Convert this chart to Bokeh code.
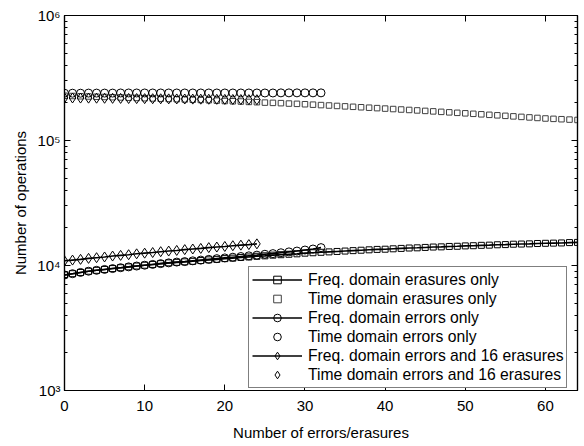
from bokeh.plotting import figure
from bokeh.models import Range1d, LogAxis, LinearAxis, FixedTicker
from bokeh.embed import file_html
from bokeh.resources import INLINE

# ---------------- data ----------------
x_erasures = list(range(65))
x_errors = list(range(33))
x_err16 = list(range(25))

freq_erasures = [8400, 8600, 8800, 9000, 9150, 9300, 9450, 9600, 9750, 9900,
                 10050, 10200, 10350, 10500, 10600, 10700, 10800, 10950, 11100, 11200,
                 11350, 11450, 11600, 11700, 11850, 11950, 12100, 12200, 12300, 12400,
                 12550, 12650, 12750, 12850, 12950, 13050, 13150, 13250, 13350, 13450,
                 13500, 13600, 13700, 13800, 13850, 13950, 14050, 14100, 14200, 14250,
                 14350, 14400, 14500, 14550, 14650, 14700, 14800, 14850, 14900, 15000,
                 15050, 15100, 15150, 15250, 15300]
time_erasures = [228000, 227000, 226000, 225000, 224000, 223000, 222000, 221000, 220000, 219000,
                 218000, 217000, 216000, 215000, 214000, 213000, 212000, 211000, 210000, 208500,
                 207000, 206000, 205000, 203500, 202500, 201000, 200000, 199000, 197500, 196500,
                 195000, 193500, 192000, 190500, 189000, 187500, 186000, 184500, 183000, 181500,
                 180000, 178500, 177000, 175500, 174000, 172500, 171000, 169500, 168000, 166500,
                 165000, 163500, 162000, 160500, 159000, 157500, 156000, 154500, 153000, 151500,
                 150000, 149000, 148000, 147000, 146000]
freq_errors = [8400, 8600, 8800, 9000, 9150, 9300, 9450, 9600, 9750, 9900,
               10050, 10200, 10350, 10500, 10650, 10750, 10900, 11050, 11200, 11350,
               11500, 11650, 11800, 11950, 12100, 12300, 12450, 12650, 12850, 13050,
               13300, 13550, 13900]
time_errors = [239000, 239000, 239000, 239500, 239500, 239500, 239500, 240000, 240000, 240000,
               240000, 240000, 240000, 240000, 240000, 240000, 240000, 240000, 240000, 240000,
               240000, 240000, 240000, 240000, 240000, 240000, 240000, 240500, 240500, 240500,
               240500, 240500, 240500]
freq_err16 = [10900, 11050, 11200, 11400, 11550, 11700, 11900, 12050, 12200, 12400,
              12550, 12700, 12900, 13050, 13200, 13400, 13550, 13700, 13900, 14050,
              14200, 14400, 14550, 14700, 14900]
time_err16 = [219000, 218800, 218500, 218200, 218000, 217700, 217400, 217100, 216800, 216500,
              216200, 215900, 215600, 215300, 215000, 214700, 214400, 214100, 213800, 213500,
              213200, 212900, 212600, 212300, 212000]

x_ticks = [0, 10, 20, 30, 40, 50, 60]
y_ticks = [1000, 10000, 100000, 1000000]
y_tick_labels = ["10\u00b3", "10\u2074", "10\u2075", "10\u2076"]

labels = ["Freq. domain erasures only", "Time domain erasures only",
          "Freq. domain errors only", "Time domain errors only",
          "Freq. domain errors and 16 erasures", "Time domain errors and 16 erasures"]

FONT = "Liberation Sans"

p = figure(width=582, height=444, y_axis_type="log",
           x_range=Range1d(0, 64), y_range=Range1d(1e3, 1e6),
           output_backend="svg", toolbar_location=None,
           min_border_left=64, min_border_right=5, min_border_top=15, min_border_bottom=54)
p.grid.visible = False
p.outline_line_color = "black"
p.outline_line_width = 1.2
p.background_fill_color = "white"
p.border_fill_color = "white"

minor_y = [m * 10 ** k for k in range(3, 6) for m in range(2, 10)]
xt = FixedTicker(ticks=x_ticks, minor_ticks=[])
yt = FixedTicker(ticks=y_ticks, minor_ticks=minor_y)

def style(ax):
    ax.axis_line_color = "black"
    ax.axis_line_width = 1.2
    ax.major_tick_in = 6
    ax.major_tick_out = 0
    ax.minor_tick_in = 3
    ax.minor_tick_out = 0
    ax.major_tick_line_color = "black"
    ax.minor_tick_line_color = "black"
    ax.major_label_text_font = FONT
    ax.major_label_text_font_size = "15px"
    ax.major_label_text_color = "black"
    ax.axis_label_text_font = FONT
    ax.axis_label_text_font_size = "15px"
    ax.axis_label_text_font_style = "normal"
    ax.axis_label_text_color = "black"

xa = p.xaxis[0]
ya = p.yaxis[0]
xa.ticker = xt
ya.ticker = yt
style(xa)
style(ya)
ya.major_label_overrides = {t: l for t, l in zip(y_ticks, y_tick_labels)}
xa.axis_label = "Number of errors/erasures"
ya.axis_label = "Number of operations"
xa.major_label_standoff = 10
ya.major_label_standoff = 4
xa.axis_label_standoff = 10
ya.axis_label_standoff = 5

top = LinearAxis(ticker=xt)
right = LogAxis(ticker=yt)
for ax in (top, right):
    style(ax)
    ax.major_label_text_font_size = "0px"
    ax.major_label_standoff = 0
    ax.major_label_text_alpha = 0
p.add_layout(top, "above")
p.add_layout(right, "right")

LW = 1.6
# Freq erasures
p.line(x_erasures, freq_erasures, line_color="black", line_width=LW, legend_label=labels[0])
p.scatter(x_erasures, freq_erasures, marker="square", size=6, line_color="black",
          fill_color=None, line_width=1, legend_label=labels[0])
# Time erasures
p.scatter(x_erasures, time_erasures, marker="square", size=5.5, line_color="#404040",
          fill_color=None, line_width=1, legend_label=labels[1])
# Freq errors
p.line(x_errors, freq_errors, line_color="black", line_width=LW, legend_label=labels[2])
p.scatter(x_errors, freq_errors, marker="circle", size=8, line_color="black",
          fill_color=None, line_width=1, legend_label=labels[2])
# Time errors
p.scatter(x_errors, time_errors, marker="circle", size=8, line_color="black",
          fill_color=None, line_width=1, legend_label=labels[3])
# Freq errors + 16 erasures
p.line(x_err16, freq_err16, line_color="black", line_width=LW, legend_label=labels[4])
p.scatter(x_err16, freq_err16, marker="diamond", size=10, line_color="black",
          fill_color=None, line_width=1, legend_label=labels[4])
# Time errors + 16 erasures
p.scatter(x_err16, time_err16, marker="diamond", size=10, line_color="black",
          fill_color=None, line_width=1, legend_label=labels[5])

lg = p.legend[0]
lg.location = (184, 2)
lg.margin = 0
lg.padding = 3
lg.spacing = 0
lg.glyph_width = 50
lg.glyph_height = 19
lg.label_height = 19
lg.label_standoff = 6
lg.label_text_font = FONT
lg.label_text_font_size = "15.7px"
lg.label_text_color = "black"
lg.border_line_color = "black"
lg.border_line_width = 1.2
lg.background_fill_alpha = 1
lg.background_fill_color = "white"

open("out.html", "w").write(file_html(p, INLINE))
